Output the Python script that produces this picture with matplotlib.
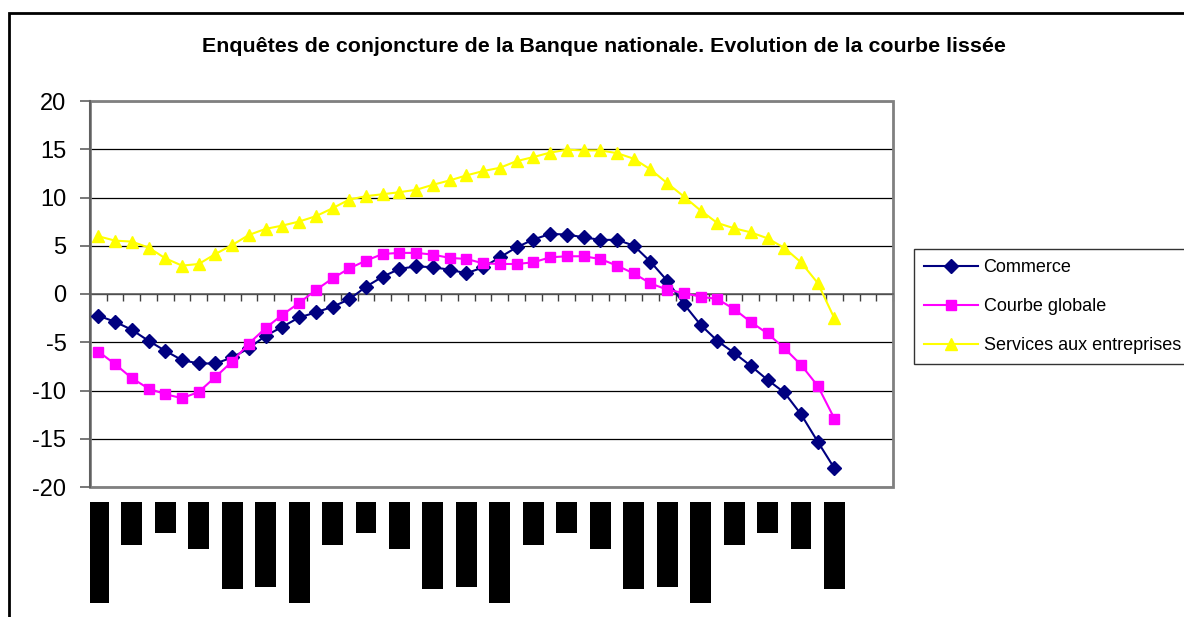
import numpy as np
import matplotlib
matplotlib.use("Agg")
import matplotlib.pyplot as plt
from matplotlib.patches import Rectangle

# Smoothed survey curves, one value per month (45 months, 48 category slots)
n_slots = 48
commerce = [-2.25, -2.88, -3.71, -4.85, -5.89, -6.85, -7.2, -7.2, -6.58, -5.61,
            -4.33, -3.40, -2.43, -1.91, -1.32, -0.55, 0.76, 1.8, 2.6, 2.87,
            2.77, 2.52, 2.14, 2.77, 3.80, 4.84, 5.64, 6.23, 6.16, 5.88,
            5.61, 5.61, 5.02, 3.35, 1.38, -1.04, -3.2, -4.85, -6.1, -7.45,
            -8.9, -10.2, -12.46, -15.3, -18.07]
courbe_globale = [-5.96, -7.27, -8.72, -9.8, -10.38, -10.8, -10.15, -8.59, -7.0, -5.13,
                  -3.53, -2.15, -0.93, 0.41, 1.62, 2.66, 3.46, 4.15, 4.26, 4.26,
                  4.08, 3.74, 3.63, 3.18, 3.11, 3.11, 3.28, 3.80, 3.91, 3.91,
                  3.63, 2.94, 2.14, 1.10, 0.45, 0.10, -0.28, -0.52, -1.56, -2.9,
                  -4.09, -5.61, -7.34, -9.52, -12.92]
services = [5.98, 5.53, 5.43, 4.81, 3.70, 2.94, 3.11, 4.15, 5.08, 6.12,
            6.75, 7.09, 7.51, 8.06, 8.89, 9.79, 10.14, 10.34, 10.55, 10.80,
            11.32, 11.77, 12.29, 12.74, 13.08, 13.77, 14.19, 14.65, 14.95, 14.88,
            14.88, 14.60, 14.02, 12.91, 11.49, 10.10, 8.65, 7.36, 6.81, 6.39,
            5.77, 4.78, 3.28, 1.14, -2.53]

# category labels came out as solid black blocks (every 2nd month), length in px
label_len = [101, 43, 31, 47, 87, 85, 101, 43, 31, 47, 87, 85,
             101, 43, 31, 47, 87, 85, 101, 43, 31, 47, 87]

x = np.arange(len(commerce))
label_pos = np.arange(0, len(commerce), 2)

plt.rcParams['font.family'] = ['Liberation Sans', 'DejaVu Sans']
plt.rcParams['axes.unicode_minus'] = False

W, H = 1184, 617
fig = plt.figure(figsize=(W / 100, H / 100), dpi=100)

# outer chart border (cut by the image on the right and bottom)
fig.add_artist(Rectangle((8.5 / W, -0.1), 1.2, (H - 12.5) / H + 0.1,
                         transform=fig.transFigure, fill=False,
                         edgecolor='black', lw=2))

ax = fig.add_axes([90 / W, 130 / H, 803 / W, 386 / H])
ax.plot(x, commerce, color='#000080', lw=1.5, marker='D', ms=7.5,
        label='Commerce', zorder=3)
ax.plot(x, courbe_globale, color='#FF00FF', lw=1.5, marker='s', ms=7.5,
        label='Courbe globale', zorder=3)
ax.plot(x, services, color='#FFFF00', lw=1.5, marker='^', ms=9,
        label='Services aux entreprises', zorder=3)

ax.set_xlim(-0.5, n_slots - 0.5)
ax.set_ylim(-20, 20)
ax.set_yticks(range(-20, 21, 5))
ax.yaxis.grid(True, color='black', lw=0.9)
ax.set_axisbelow(True)

# category axis crosses at zero
ax.spines['bottom'].set_position(('data', 0))
ax.spines['bottom'].set_color('#606060')
ax.spines['bottom'].set_linewidth(1.2)
ax.spines['left'].set_color('#606060')
ax.spines['left'].set_linewidth(1.5)
ax.spines['top'].set_visible(False)
ax.spines['right'].set_visible(False)
ax.add_patch(Rectangle((0, 0), 1, 1, transform=ax.transAxes, fill=False,
                       edgecolor='#808080', lw=2, clip_on=False, zorder=1))

ax.set_xticks(np.arange(-0.5, n_slots, 1))
ax.set_xticklabels([])
ax.tick_params(axis='x', direction='out', length=5, color='#404040', width=1)
ax.tick_params(axis='y', direction='out', length=7, color='#606060', width=1.2,
               labelsize=17, pad=10)

ax.set_title('Enquêtes de conjoncture de la Banque nationale. Evolution de la courbe lissée',
             fontsize=15.4, fontweight='bold', x=0.64, y=1.0, pad=35)

leg = ax.legend(loc='upper left', bbox_to_anchor=(914 / W, (H - 249) / H),
                bbox_transform=fig.transFigure, borderaxespad=0,
                frameon=True, fancybox=False,
                edgecolor='black', fontsize=13, handlelength=3.0,
                labelspacing=1.22, borderpad=0.55, handletextpad=0.3)
leg.get_frame().set_linewidth(1.0)

# the black label blocks under the plot area
ax_lab = fig.add_axes([90 / W, 0, 803 / W, 115 / H], sharex=ax)
ax_lab.bar(label_pos, label_len, width=1.25, color='black')
ax_lab.set_ylim(115, 0)
ax_lab.set_xlim(-0.5, n_slots - 0.5)
ax_lab.axis('off')

fig.savefig('out.png', dpi=100)
